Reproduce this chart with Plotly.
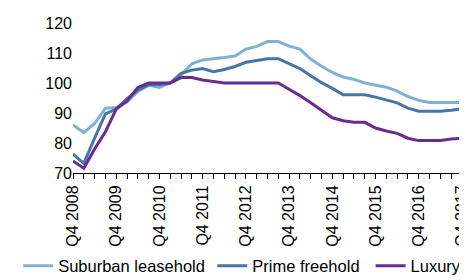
import plotly.graph_objects as go

quarters = []
for y in range(2008, 2018):
    for q in range(1, 5):
        if (y == 2008 and q < 4):
            continue
        quarters.append(f"Q{q} {y}")

suburban = [86, 83.5, 86.5, 91.6, 91.8, 93.7, 97.2, 99.3, 98.5, 100,
            102.7, 106.4, 107.7, 108, 108.5, 109, 111.3, 112.2, 113.8, 113.8,
            112.3, 111.3, 108, 105.6, 103.5, 102, 101.2, 100, 99.4, 98.6,
            97.3, 95.5, 94.2, 93.5, 93.5, 93.5, 93.5]
prime = [76.3, 73.2, 81.6, 89.7, 91.3, 94.8, 97.6, 99.4, 99.4, 100,
         103.2, 104.3, 104.8, 103.8, 104.5, 105.5, 106.9, 107.4, 108.1, 108.1,
         106.4, 104.8, 102.4, 100.1, 98.2, 96.1, 96.1, 96.1, 95.3, 94.4,
         93.4, 91.6, 90.6, 90.6, 90.6, 90.9, 91.4]
luxury = [74, 71.6, 78, 83.7, 91.3, 94, 98.5, 100, 100, 100,
          101.8, 101.8, 101, 100.4, 100, 100, 100, 100, 100, 100,
          97.9, 95.8, 93.4, 90.9, 88.4, 87.4, 86.9, 86.9, 85, 84,
          83.2, 81.6, 80.8, 80.8, 80.8, 81.3, 81.6]

tick_text = [q if q.startswith("Q4") else "" for q in quarters]
y_ticks = [70, 80, 90, 100, 110, 120]

series = [("Suburban leasehold", suburban, "#7fb1d6", "legend", -0.141),
          ("Prime freehold", prime, "#4576a8", "legend2", 0.358),
          ("Luxury", luxury, "#6a2b90", "legend3", 0.765)]

fig = go.Figure()
for name, vals, col, lg, _ in series:
    fig.add_trace(go.Scatter(x=quarters, y=vals, name=name, mode="lines",
                             line=dict(color=col, width=3), legend=lg))

legend_style = dict(orientation="h", y=-0.62, xanchor="left", yanchor="middle",
                    font=dict(size=16.5), itemwidth=30, bgcolor="rgba(0,0,0,0)")
layout_legends = {}
for name, vals, col, lg, lx in series:
    layout_legends[lg] = dict(legend_style, x=lx)

fig.update_layout(
    width=467, height=280,
    margin=dict(l=65, r=5, t=15, b=107),
    paper_bgcolor="white", plot_bgcolor="white",
    font=dict(family="Liberation Sans, Arial, sans-serif", size=16, color="#000000"),
    showlegend=True,
    **layout_legends,
)
fig.update_xaxes(type="category", range=[0, 36], tickmode="array",
                 tickvals=quarters, ticktext=tick_text, tickangle=-90,
                 showline=True, linecolor="black", linewidth=1,
                 ticks="outside", ticklen=5, tickcolor="black",
                 showgrid=False, zeroline=False, tickfont=dict(size=16))
fig.update_yaxes(range=[70, 120], tickvals=y_ticks, showgrid=False,
                 zeroline=False, showline=False, ticks="",
                 tickfont=dict(size=16))

fig.write_html("out.html")
